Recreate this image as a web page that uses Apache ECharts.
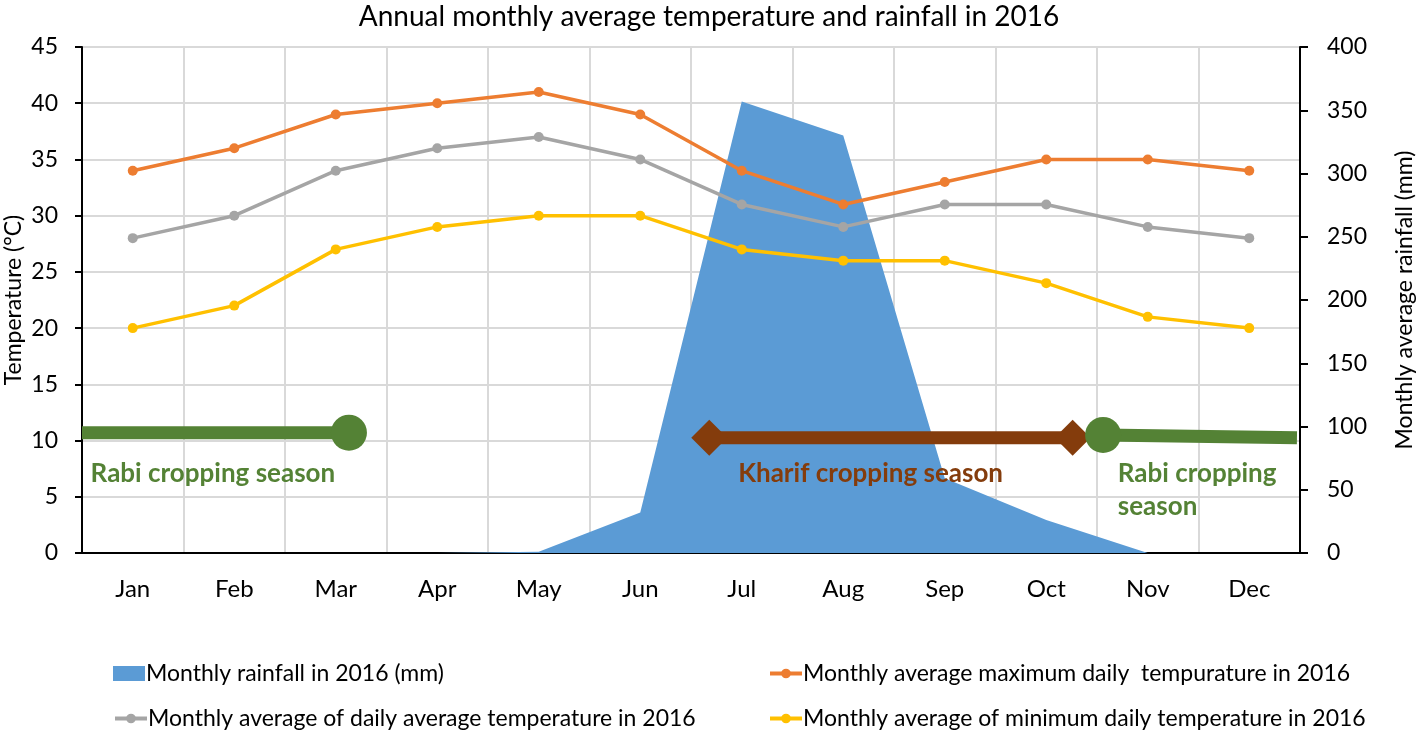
<!DOCTYPE html>
<html>
<head>
<meta charset="utf-8">
<script src="https://cdn.jsdelivr.net/npm/echarts@6/dist/echarts.min.js"></script>
<style>html,body{margin:0;padding:0;background:#fff}#c{width:1418px;height:730px}</style>
</head>
<body>
<div id="c"></div>
<script>
const months = ['Jan','Feb','Mar','Apr','May','Jun','Jul','Aug','Sep','Oct','Nov','Dec'];
const rainfall = [0,0,0,0,1,32,357,330,59,26,0,0];
const maxTemp = [34,36,39,40,41,39,34,31,33,35,35,34];
const avgTemp = [28,30,34,36,37,35,31,29,31,31,29,28];
const minTemp = [20,22,27,29,30,30,27,26,26,24,21,20];
const seriesNames = ['Monthly rainfall in 2016 (mm)','Monthly average maximum daily  tempurature in 2016','Monthly average of daily average temperature in 2016','Monthly average of minimum daily temperature in 2016'];
// cropping seasons in month units (0 = left edge of Jan, 12 = right edge of Dec), temperature axis
const rabiStart = [[0,10.7],[2.63,10.7]];
const kharif = [[6.18,10.25],[9.76,10.25]];
const rabiEnd = [[10.06,10.5],[11.97,10.25]];
const seasonLabels = [
  {x:0.08, y:7.1, text:'Rabi cropping season', color:'#548235'},
  {x:6.46, y:7.1, text:'Kharif cropping season', color:'#843C0C'},
  {x:10.2, y:5.55, text:'Rabi cropping\nseason', color:'#548235'}
];
const FONT = 'Lato';
const legendText = {fontSize:23,color:'#000',fontFamily:FONT,padding:[0,0,0,-4]};
function leg(name,left,top,icon){
  const d = icon ? {name:name,icon:icon} : name;
  return {left:left,top:top,itemWidth:32,itemHeight:icon?15:12,data:[d],textStyle:legendText,
    lineStyle:{width:4}};
}
const chart = echarts.init(document.getElementById('c'));
chart.setOption({
  animation:false,
  textStyle:{fontFamily:FONT},
  title:{text:'Annual monthly average temperature and rainfall in 2016',left:'center',top:-2,
    textStyle:{fontFamily:FONT,fontSize:28,fontWeight:'normal',color:'#000'}},
  grid:{left:82,right:118,top:47,bottom:177,containLabel:false,outerBoundsMode:'none'},
  legend:[
    leg(seriesNames[0],108,657,'rect'),
    leg(seriesNames[2],108,702),
    leg(seriesNames[1],763,657),
    leg(seriesNames[3],763,702)
  ],
  xAxis:[
    {type:'category',data:months,boundaryGap:true,
     axisLine:{lineStyle:{color:'#000',width:2}},axisTick:{show:false},
     axisLabel:{fontSize:24,color:'#000',margin:24},
     splitLine:{show:true,lineStyle:{color:'#d9d9d9',width:2}}},
    {type:'value',min:0,max:12,show:false}
  ],
  yAxis:[
    {type:'value',min:0,max:45,interval:5,name:'Temperature (°C)',nameLocation:'middle',nameGap:57,nameMoveOverlap:false,
     nameTextStyle:{fontSize:23,color:'#000'},
     axisLine:{show:true,lineStyle:{color:'#000',width:2}},axisTick:{show:true,length:7,lineStyle:{color:'#000',width:2}},
     axisLabel:{fontSize:23,color:'#000',margin:24},
     splitLine:{show:true,lineStyle:{color:'#d9d9d9',width:2}}},
    {type:'value',min:0,max:400,interval:50,name:'Monthly average rainfall (mm)',nameLocation:'middle',nameGap:93,nameRotate:90,nameMoveOverlap:false,
     nameTextStyle:{fontSize:23,color:'#000'},
     axisLine:{show:true,lineStyle:{color:'#000',width:2}},axisTick:{show:true,length:8,lineStyle:{color:'#000',width:2}},
     axisLabel:{fontSize:23,color:'#000',margin:27},
     splitLine:{show:false}}
  ],
  series:[
    {name:seriesNames[0],type:'line',yAxisIndex:1,data:rainfall,symbol:'none',
     lineStyle:{width:0},itemStyle:{color:'#5B9BD5'},areaStyle:{color:'#5B9BD5',opacity:1},z:1},
    {name:seriesNames[1],type:'line',data:maxTemp,symbol:'circle',symbolSize:10,
     lineStyle:{width:3.5,color:'#ED7D31'},itemStyle:{color:'#ED7D31'},z:3},
    {name:seriesNames[2],type:'line',data:avgTemp,symbol:'circle',symbolSize:10,
     lineStyle:{width:3.5,color:'#A5A5A5'},itemStyle:{color:'#A5A5A5'},z:3},
    {name:seriesNames[3],type:'line',data:minTemp,symbol:'circle',symbolSize:10,
     lineStyle:{width:3.5,color:'#FFC000'},itemStyle:{color:'#FFC000'},z:3},
    {type:'line',xAxisIndex:1,data:rabiStart,symbolSize:36,showAllSymbol:true,
     symbol:function(v,p){return p.dataIndex===1?'circle':'none';},
     lineStyle:{width:13,color:'#548235'},itemStyle:{color:'#548235'},z:4},
    {type:'line',xAxisIndex:1,data:kharif,symbol:'diamond',symbolSize:[36,36],
     lineStyle:{width:13,color:'#843C0C'},itemStyle:{color:'#843C0C'},z:4},
    {type:'line',xAxisIndex:1,data:rabiEnd,symbolSize:36,
     symbol:function(v,p){return p.dataIndex===0?'circle':'none';},
     lineStyle:{width:13,color:'#548235'},itemStyle:{color:'#548235'},z:5},
    {type:'scatter',xAxisIndex:1,symbolSize:1,itemStyle:{color:'rgba(0,0,0,0)',opacity:1},z:6,
     data:seasonLabels.map(d=>({value:[d.x,d.y],label:{color:d.color,opacity:1}})),
     label:{show:true,position:'right',distance:0,align:'left',fontSize:26,fontWeight:'bold',lineHeight:33,
       formatter:p=>seasonLabels[p.dataIndex].text}}
  ]
});
</script>
</body>
</html>
